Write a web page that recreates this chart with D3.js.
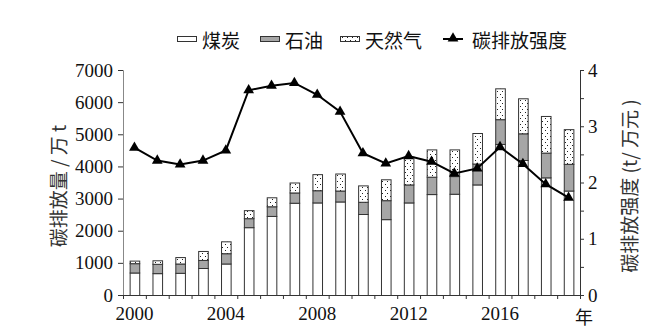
<!DOCTYPE html>
<html><head><meta charset="utf-8">
<script src="https://cdn.jsdelivr.net/npm/d3@7"></script>
<style>
body{margin:0;background:#fff;}
svg{display:block;font-family:"Liberation Serif",serif;}
.cjk{font-family:"Noto Sans CJK SC",sans-serif;}
</style></head>
<body><svg id="c" width="667" height="335"></svg>
<script>
const years = [2000,2001,2002,2003,2004,2005,2006,2007,2008,2009,2010,2011,2012,2013,2014,2015,2016,2017,2018,2019];
const coal = [700,680,690,840,980,2110,2460,2870,2880,2910,2520,2360,2880,3140,3150,3440,4700,4200,3660,3250];
const oil  = [290,290,290,250,320,280,300,320,380,340,380,590,560,540,550,650,770,830,770,830];
const gas  = [80,110,200,280,370,250,280,310,500,530,510,650,860,850,830,950,960,1090,1140,1080];
const intensity = [2.62,2.39,2.32,2.39,2.57,3.64,3.72,3.77,3.56,3.26,2.52,2.34,2.47,2.37,2.16,2.25,2.63,2.33,1.97,1.73];
const leftTicks = [0,1000,2000,3000,4000,5000,6000,7000];
const rightTicks = [0,0.5,1,1.5,2,2.5,3,3.5,4];
const yearLabels = [2000,2004,2008,2012,2016];
const seriesNames = ["煤炭","石油","天然气"];
const lineName = "碳排放强度";

const svg = d3.select("#c");
const L = 123, R = 580, T = 70, B = 295;

const defs = svg.append("defs");
const pat = defs.append("pattern").attr("id","dots").attr("patternUnits","userSpaceOnUse")
  .attr("width",5).attr("height",6);
pat.append("rect").attr("width",5).attr("height",6).attr("fill","#fff");
pat.append("rect").attr("x",2).attr("y",1).attr("width",1).attr("height",1).attr("fill","#222");
pat.append("rect").attr("x",0).attr("y",4).attr("width",1).attr("height",1).attr("fill","#222");

const x = d3.scaleBand().domain(years).range([L,R]).paddingInner(0.58).paddingOuter(0.29);
const xb = d3.scaleLinear().domain([0,years.length]).range([L,R]);
const y = d3.scaleLinear().domain([0,7000]).range([B,T]);
const y2 = d3.scaleLinear().domain([0,4]).range([B,T]);

const fills = ["#fff","#a6a6a6","url(#dots)"];
const data = years.map((yr,i)=>({year:yr,"煤炭":coal[i],"石油":oil[i],"天然气":gas[i]}));
const stack = d3.stack().keys(seriesNames)(data);

stack.forEach((s,k)=>{
  svg.append("g").selectAll("rect").data(s).join("rect")
    .attr("x",d=>x(d.data.year)+0.5)
    .attr("y",d=>y(d[1])+0.5)
    .attr("width",x.bandwidth())
    .attr("height",d=>y(d[0])-y(d[1]))
    .attr("fill",fills[k]).attr("stroke","#333").attr("stroke-width",1);
});

// axes
const font = "19px";
const gl = svg.append("g").attr("transform",`translate(${L},0)`)
  .call(d3.axisLeft(y).tickValues(leftTicks).tickSize(5).tickPadding(5).tickFormat(d3.format("d")));
const gr = svg.append("g").attr("transform",`translate(${R},0)`)
  .call(d3.axisRight(y2).tickValues(rightTicks).tickSize(4).tickPadding(4).tickFormat(d=>Number.isInteger(d)?d:""));
const gb = svg.append("g").attr("transform",`translate(0,${B})`)
  .call(d3.axisBottom(xb).tickValues(d3.range(0,years.length+1)).tickSize(4).tickFormat(""));
[gl,gr,gb].forEach(g=>{
  g.selectAll("text").attr("font-family","Liberation Serif").attr("font-size",font).attr("fill","#111");
  g.selectAll("line").attr("stroke","#333");
  g.select(".domain").attr("stroke","#333");
});
gl.select(".domain").attr("stroke","#888");

svg.append("g").selectAll("text").data(yearLabels).join("text")
  .attr("x",d=>x(d)+x.bandwidth()/2).attr("y",B+25)
  .attr("text-anchor","middle").attr("font-size",font).attr("fill","#111").text(d=>d);
svg.append("text").attr("class","cjk").attr("x",R+4).attr("y",B+29).attr("text-anchor","middle")
  .attr("font-size","18px").attr("fill","#111").text("年");

// line
const line = d3.line().x((d,i)=>x(years[i])+x.bandwidth()/2).y(d=>y2(d));
svg.append("path").datum(intensity).attr("d",line).attr("fill","none").attr("stroke","#000").attr("stroke-width",2);
const tri = d3.symbol().type(d3.symbolTriangle).size(50);
svg.append("g").selectAll("path").data(intensity).join("path")
  .attr("transform",(d,i)=>`translate(${x(years[i])+x.bandwidth()/2},${y2(d)})`)
  .attr("d",tri).attr("fill","#000");

// axis titles
svg.append("text").attr("class","cjk").attr("transform","translate(57,186) rotate(-90)")
  .attr("text-anchor","middle").attr("dominant-baseline","central")
  .attr("font-size",font).attr("fill","#333").text("碳排放量 / 万 t");
svg.append("text").attr("class","cjk").attr("transform","translate(628,186) rotate(-90)")
  .attr("text-anchor","middle").attr("dominant-baseline","central")
  .attr("font-size",font).attr("fill","#333").text("碳排放强度 (t/ 万元 )");

// legend
const lg = svg.append("g");
const items = [{n:"煤炭",x:177,f:fills[0]},{n:"石油",x:260,f:fills[1]},{n:"天然气",x:340,f:fills[2]}];
items.forEach(it=>{
  lg.append("rect").attr("x",it.x+0.5).attr("y",36.5).attr("width",19).attr("height",5)
    .attr("fill",it.f).attr("stroke","#333");
  lg.append("text").attr("class","cjk").attr("x",it.x+25).attr("y",39).attr("dominant-baseline","central")
    .attr("font-size",font).attr("fill","#111").text(it.n);
});
lg.append("line").attr("x1",443).attr("x2",463).attr("y1",39).attr("y2",39).attr("stroke","#000").attr("stroke-width",2);
lg.append("path").attr("transform","translate(453,38.5)").attr("d",tri).attr("fill","#000");
lg.append("text").attr("class","cjk").attr("x",472).attr("y",39).attr("dominant-baseline","central")
  .attr("font-size",font).attr("fill","#111").text(lineName);
</script></body></html>
